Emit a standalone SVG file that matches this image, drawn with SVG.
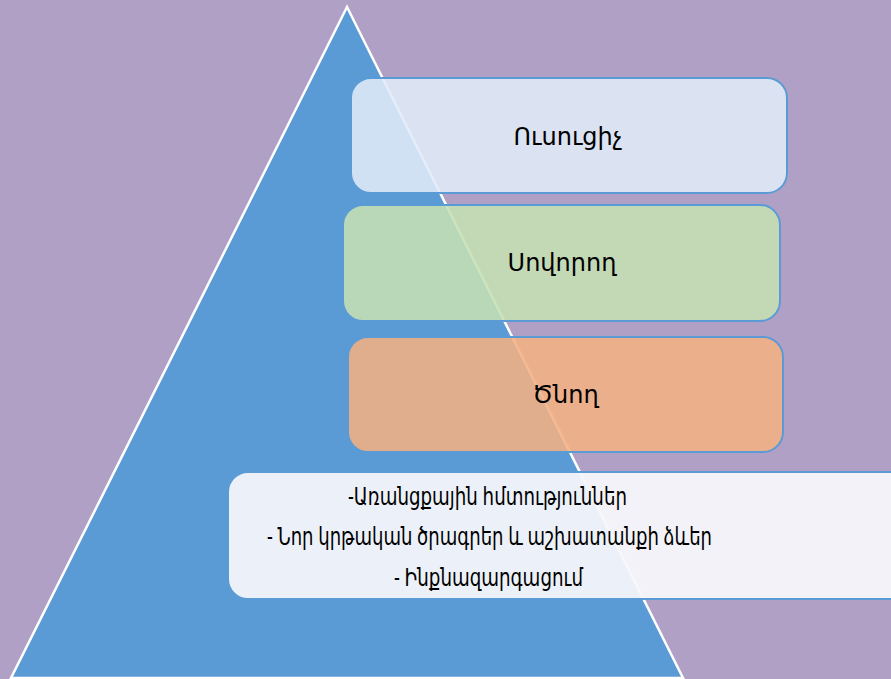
<svg xmlns="http://www.w3.org/2000/svg" width="891" height="679" viewBox="0 0 891 679">
<style>
.box{stroke:#5b9bd5;stroke-width:2;fill-opacity:0.88}
.lbl{font-family:"Noto Sans","DejaVu Sans",sans-serif;font-size:24px;fill:#000;text-anchor:middle}
.lst{font-family:"Noto Sans","DejaVu Sans",sans-serif;font-size:25px;fill:#000;text-anchor:middle}
</style>
<rect x="0" y="0" width="891" height="679" fill="#b0a0c6"/>
<g id="pyramid">
<polygon points="347,7 11,678 683,678" fill="#5b9bd5" stroke="#ffffff" stroke-width="2.5" stroke-linejoin="miter"/>
</g>
<g id="connectors"></g>
<g id="node-teacher">
<rect class="box" x="351" y="78" width="436" height="115" rx="20" fill="#e0ebf8"/>
<text class="lbl" x="568" y="145">Ուսուցիչ</text>
</g>
<g id="node-student">
<rect class="box" x="343" y="205" width="437" height="116" rx="20" fill="#c5e0b4"/>
<text class="lbl" x="562" y="271">Սովորող</text>
</g>
<g id="node-parent">
<rect class="box" x="348" y="337" width="435" height="115" rx="20" fill="#f4b183"/>
<text class="lbl" x="565.5" y="403">Ծնող</text>
</g>
<g id="node-outcomes">
<rect class="box" x="228" y="472" width="690" height="127" rx="20" fill="#f5f6fb" style="fill-opacity:0.94"/>
<text class="lst" x="487.5" y="505" textLength="279" lengthAdjust="spacingAndGlyphs">-Առանցքային հմտություններ</text>
<text class="lst" x="489.5" y="545" textLength="445" lengthAdjust="spacingAndGlyphs">- Նոր կրթական ծրագրեր և աշխատանքի ձևեր</text>
<text class="lst" x="488.5" y="586" textLength="189" lengthAdjust="spacingAndGlyphs">- Ինքնազարգացում</text>
</g>
</svg>
